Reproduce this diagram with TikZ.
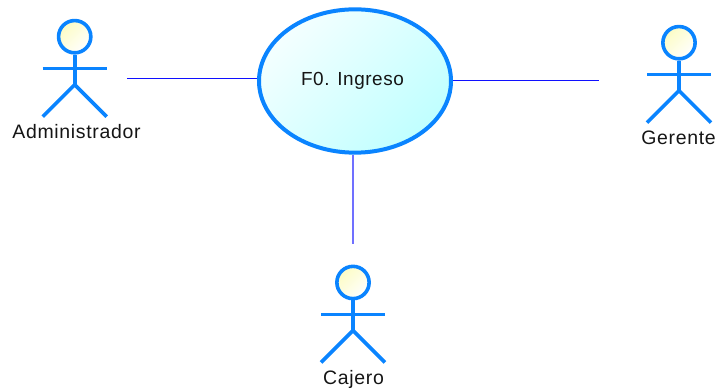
\documentclass[tikz,border=0pt]{standalone}
\usepackage{fontspec}
\setmainfont{Liberation Sans}
\usetikzlibrary{shapes.geometric}
\definecolor{actorblue}{HTML}{0A84FF}
\definecolor{linkblue}{HTML}{1010FF}
\definecolor{softlink}{HTML}{7070FF}
\definecolor{headyellow}{HTML}{FCFCC4}
\definecolor{casecyan}{HTML}{C0FFFF}
\definecolor{casepale}{HTML}{F4FFFF}
\definecolor{labelink}{HTML}{151515}
\tikzset{
  limb/.style={draw=actorblue,line width=2.7pt},
  head/.style={circle,draw=actorblue,line width=2.7pt,minimum size=24.2pt,inner sep=0pt,left color=headyellow,right color=white,shading angle=45},
  usecase/.style={ellipse,draw=actorblue,line width=3pt,minimum width=144pt,minimum height=107.5pt,inner sep=0pt,left color=casepale,right color=casecyan,shading angle=45},
  link/.style={draw=linkblue,line width=0.75pt},
  softconn/.style={draw=softlink,line width=0.9pt},
  label/.style={inner sep=0pt,text=labelink,font=\fontsize{14.6pt}{16pt}\selectfont\addfontfeature{LetterSpace=3.5}},
  caselabel/.style={inner sep=0pt,text=labelink,font=\fontsize{14.2pt}{16pt}\selectfont\addfontfeature{LetterSpace=3}},
}
\newcommand{\drawactor}[3]{%
  \node[head] (#1head) at (#2,#3) {};
  \coordinate (#1hip) at (#2,#3+48);
  \draw[limb] (#1head.south) -- (#1hip);
  \coordinate (#1armL) at (#2-32,#3+32);
  \coordinate (#1armR) at (#2+32,#3+32);
  \draw[limb] (#1armL) -- (#1armR);
  \coordinate (#1footL) at (#2-32,#3+80);
  \coordinate (#1footR) at (#2+32,#3+80);
  \draw[limb] (#1footL) -- (#1hip) -- (#1footR);
}
\begin{document}
\begin{tikzpicture}[x=0.75pt,y=-0.75pt]
\useasboundingbox (0,0) rectangle (719,391);
\drawactor{admin}{74.7}{36.7}
\drawactor{cajero}{353}{282.5}
\drawactor{gerente}{679}{42.7}
\node[usecase] (case) at (355,81) {};
\node[caselabel,anchor=base] (casetext) at (352.5,85.5) {F0. Ingreso};
\node[label,anchor=base] (admintext) at (76.5,138.5) {Administrador};
\node[label,anchor=base] (cajerotext) at (353.5,384.5) {Cajero};
\node[label,anchor=base] (gerentetext) at (678.5,144.5) {Gerente};
\coordinate (adminend) at (127,78.5);
\coordinate (gerenteend) at (599,80.5);
\coordinate (cajeroend) at (353,244);
\draw[link] (adminend) -- (case.west |- adminend);
\draw[link] (case.east |- gerenteend) -- (gerenteend);
\draw[softconn] (case.south -| cajeroend) -- (cajeroend);
\end{tikzpicture}
\end{document}
